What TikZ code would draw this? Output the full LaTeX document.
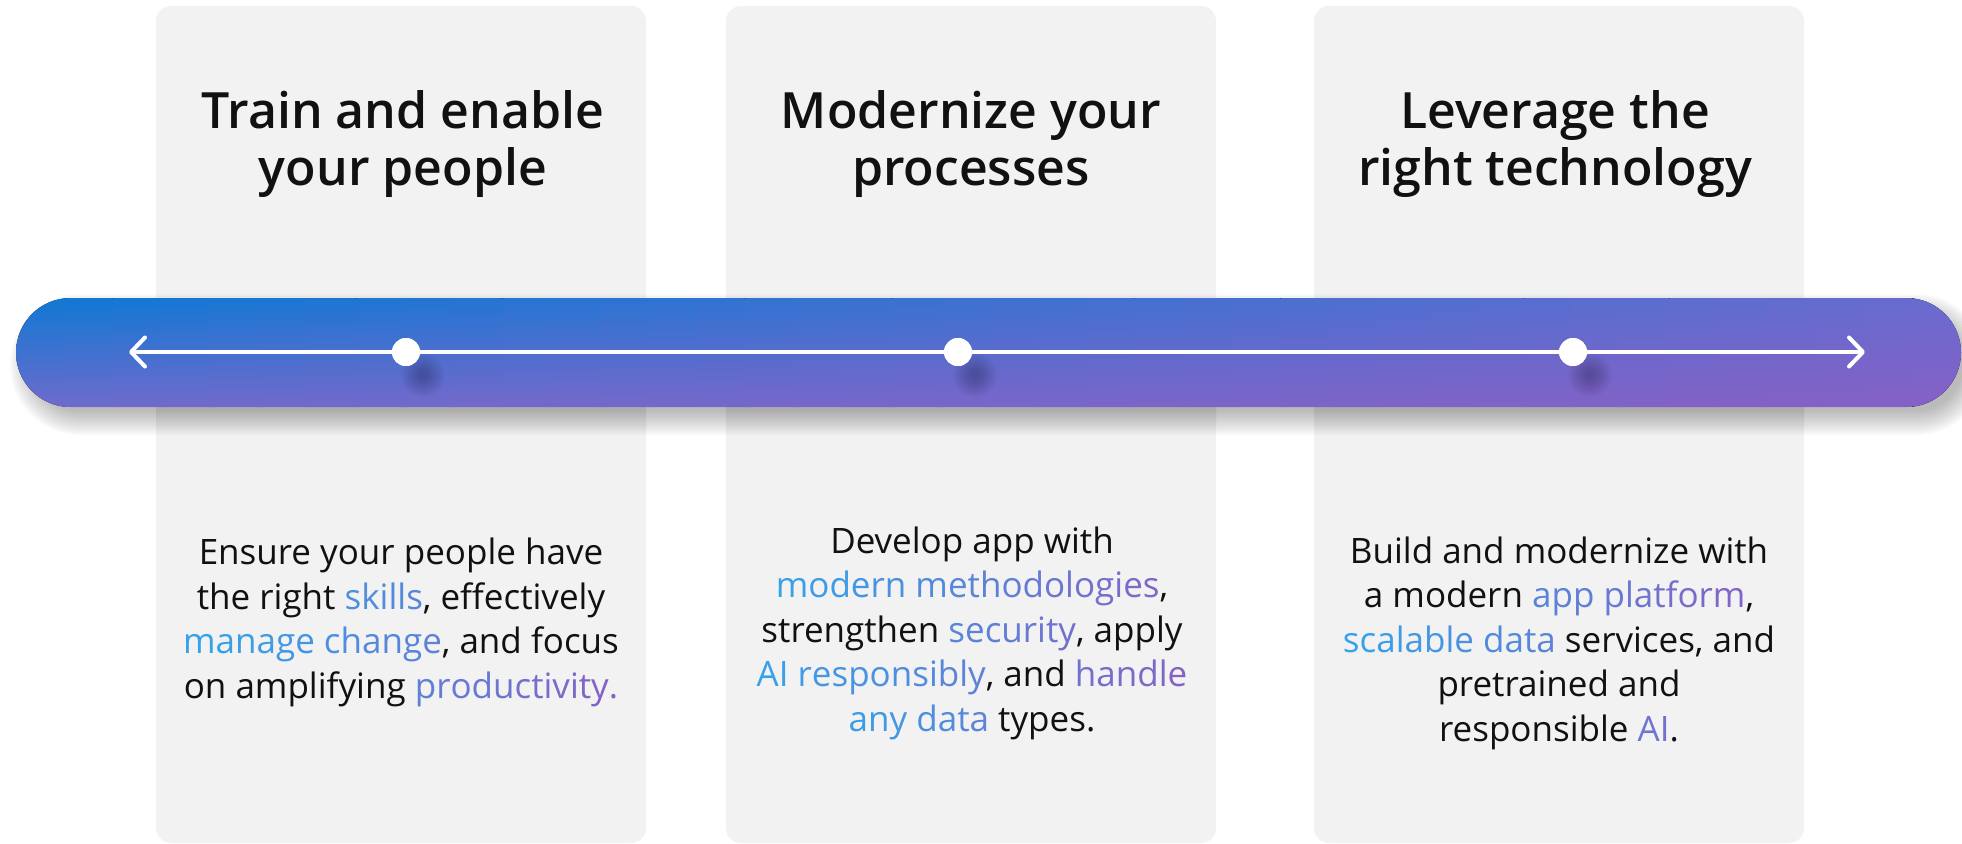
\documentclass[tikz,border=0pt]{standalone}
\usepackage{fontspec}
\setmainfont{Open Sans}
\IfFontExistsTF{Open Sans SemiBold}{\newfontfamily\titlefont{Open Sans SemiBold}}{%
  \IfFontExistsTF{Open Sans Semibold}{\newfontfamily\titlefont{Open Sans Semibold}}{%
    \IfFontExistsTF{OpenSans-Semibold}{\newfontfamily\titlefont{OpenSans-Semibold}}{%
      \newfontfamily\titlefont{Open Sans}[UprightFeatures={FakeBold=0}]\def\titlebold{\bfseries}}}}
\providecommand\titlebold{}
\usetikzlibrary{arrows.meta,calc}
\definecolor{panelgray}{HTML}{F2F2F2}
\definecolor{barTL}{HTML}{0F78D4}
\definecolor{barTR}{HTML}{6A6BCF}
\definecolor{barBL}{HTML}{6E6BCC}
\definecolor{barBR}{HTML}{8660C5}
\definecolor{gA}{HTML}{35A3EA}
\definecolor{gB}{HTML}{8661C5}
\definecolor{ink}{HTML}{111111}
\ExplSyntaxOn
\NewDocumentCommand\gradtext{mmm}{
  \group_begin:
  \int_set:Nn \l_tmpa_int { \int_max:nn { \str_count:n {#3} - 1 } { 1 } }
  \int_zero:N \l_tmpb_int
  \str_map_inline:nn {#3}
    {
      \tl_if_blank:nTF {##1}
        { \c_space_tl }
        {
          \tl_set:Nx \l_tmpa_tl { gB!\int_eval:n { #1 + (#2 - #1) * \l_tmpb_int / \l_tmpa_int }!gA }
          \color{\l_tmpa_tl}##1
        }
      \int_incr:N \l_tmpb_int
    }
  \group_end:
}
\ExplSyntaxOff
\begin{document}
\begin{tikzpicture}[x=0.5pt,y=-0.5pt,
  panelbox/.style={fill=panelgray, rounded corners=7.5pt, inner sep=0pt, minimum width=245pt, minimum height=418.5pt},
  titletext/.style={align=center, inner sep=0pt, text=ink, font=\fontsize{25}{28.5}\selectfont\titlefont\titlebold},
  bodytext/.style={align=center, inner sep=0pt, text=ink, font=\fontsize{17.5}{22.25}\selectfont},
  dotnode/.style={circle, fill=white, inner sep=0pt, minimum size=14pt},
  axisline/.style={draw=white, line width=2pt, {Straight Barb[length=7pt,width=14.5pt,round]}-{Straight Barb[length=7pt,width=14.5pt,round]}}
]
\useasboundingbox (0,0) rectangle (1962,843);
% panels
\node[panelbox] (p1) at (401,424.5) {};
\node[panelbox] (p2) at (971,424.5) {};
\node[panelbox] (p3) at (1559,424.5) {};
% bar shadow
\foreach \g in {-8,-6,...,16}{
  \pgfmathsetmacro\rc{(54.5+\g)*0.5}
  \pgfmathsetmacro\xa{26-\g}
  \pgfmathsetmacro\ya{310-\g}
  \pgfmathsetmacro\xb{1971+\g}
  \pgfmathsetmacro\yb{419+\g}
  \fill[black, fill opacity=0.025, rounded corners=\rc pt] (\xa,\ya) rectangle (\xb,\yb);
}
% bar (bilinear gradient built from vertical strips)
\begin{scope}
  \clip[rounded corners=27.25pt] (16,298) rectangle (1961,407);
  \foreach \i in {0,...,39}{
    \pgfmathsetmacro\xa{16+\i*48.625}
    \pgfmathsetmacro\xb{\xa+50}
    \pgfmathtruncatemacro\p{(\i+0.5)*100/40}
    \fill[top color=barTR!\p!barTL, bottom color=barBR!\p!barBL] (\xa,298) rectangle (\xb,407);
  }
\end{scope}
% dots
\coordinate (la) at (129,352);
\coordinate (ra) at (1865,352);
\node[dotnode] (d1) at (406,352) {};
\node[dotnode] (d2) at (958,352) {};
\node[dotnode] (d3) at (1573,352) {};
\foreach \d in {d1,d2,d3}{
  \foreach \r in {4,6,...,22}{
    \fill[black, fill opacity=0.025] ($(\d)+(17,23)$) circle[radius=\r*0.5pt];
  }
}
\draw[axisline] (la) -- (ra);
\node[dotnode] at (d1) {};
\node[dotnode] at (d2) {};
\node[dotnode] at (d3) {};
% titles
\node[titletext, anchor=base] (t1) at (403,185) {Train and enable\\your people};
\node[titletext, anchor=base] (t2) at (971,185) {Modernize your\\processes};
\node[titletext, anchor=base] (t3) at (1555,185) {Leverage the\\right technology};
% bodies
\node[bodytext, anchor=base] (b1) at (401,698) {Ensure your people have\\the right \gradtext{28}{42}{skills}, effectively\\\gradtext{0}{50}{manage change}, and focus\\on amplifying \gradtext{55}{100}{productivity.}};
\node[bodytext, anchor=base] (b2) at (972,731) {Develop app with\\\gradtext{5}{93}{modern methodologies},\\strengthen \gradtext{46}{74}{security}, apply\\\gradtext{1}{52}{AI responsibly}, and \gradtext{75}{100}{handle}\\\gradtext{10}{45}{any data} types.};
\node[bodytext, anchor=base] (b3) at (1559,741) {Build and modernize with\\a modern \gradtext{46}{93}{app platform},\\\gradtext{1}{47}{scalable data} services, and\\pretrained and\\responsible \gradtext{69}{77}{AI}.};
\end{tikzpicture}
\end{document}
